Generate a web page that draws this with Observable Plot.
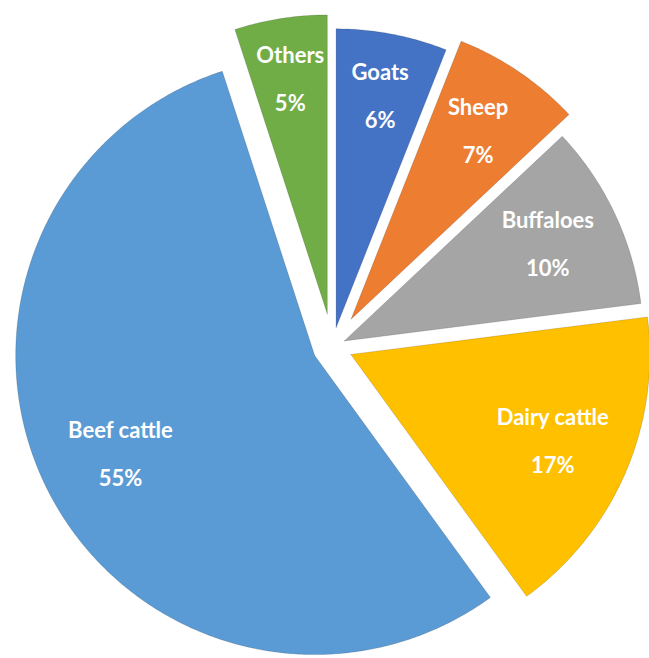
<!DOCTYPE html>
<html>
<head>
<meta charset="utf-8">
<script src="https://cdn.jsdelivr.net/npm/d3@7"></script>
<script src="https://cdn.jsdelivr.net/npm/@observablehq/plot@0.6"></script>
<style>
  html, body { margin: 0; padding: 0; background: #ffffff; }
  #chart svg { display: block; }
</style>
</head>
<body>
<div id="chart"></div>
<script>
// ---- data ----
const categories = ["Goats", "Sheep", "Buffaloes", "Dairy cattle", "Beef cattle", "Others"];
const shares = [6, 7, 10, 17, 55, 5];
const shareLabels = ["6%", "7%", "10%", "17%", "55%", "5%"];
const colors = ["#4472C4", "#ED7D31", "#A5A5A5", "#FFC000", "#5B9BD5", "#70AD47"];

// ---- layout ----
const W = 649, H = 658;
const CX = 332, CY = 346, R = 299;          // pie centre and radius (px)
const explode = [19, 33, 13, 20, 20, 33];   // radial offset of each slice (px)
const labelRadius = [235, 226, 225, 220, 218, 237]; // label centre distance from slice apex (px)

const arcs = d3.pie().sort(null).value(d => d)(shares);

// slice outlines in unit coordinates (radius = 1, y up)
const outline = [];
const labelPts = [];
arcs.forEach((a, i) => {
  const mid = (a.startAngle + a.endAngle) / 2;
  const e = explode[i] / R;
  const ox = e * Math.sin(mid), oy = e * Math.cos(mid);
  const cat = categories[i];
  outline.push({cat, x: ox, y: oy});
  const n = Math.max(4, Math.ceil((a.endAngle - a.startAngle) / (Math.PI / 360)));
  for (let k = 0; k <= n; k++) {
    const t = a.startAngle + (a.endAngle - a.startAngle) * k / n;
    outline.push({cat, x: ox + Math.sin(t), y: oy + Math.cos(t)});
  }
  outline.push({cat, x: ox, y: oy});
  const lr = labelRadius[i] / R;
  labelPts.push({
    cat,
    pct: shareLabels[i],
    x: ox + lr * Math.sin(mid),
    y: oy + lr * Math.cos(mid)
  });
});

const chart = Plot.plot({
  width: W,
  height: H,
  margin: 0,
  style: {background: "#ffffff"},
  x: {domain: [-CX / R, (W - CX) / R], range: [0, W], axis: null},
  y: {domain: [-(H - CY) / R, CY / R], range: [H, 0], axis: null},
  color: {domain: categories, range: colors},
  marks: [
    Plot.line(outline, {
      x: "x", y: "y", z: "cat",
      fill: "cat",
      stroke: "#000", strokeOpacity: 0.14, strokeWidth: 1,
      curve: "linear"
    }),
    Plot.text(labelPts, {
      x: "x", y: "y", text: "cat", dy: -24,
      fill: "white", fontSize: 22, fontWeight: "bold",
      fontFamily: "Lato, 'Open Sans', sans-serif"
    }),
    Plot.text(labelPts, {
      x: "x", y: "y", text: "pct", dy: 24,
      fill: "white", fontSize: 22, fontWeight: "bold",
      fontFamily: "Lato, 'Open Sans', sans-serif"
    })
  ]
});
document.getElementById("chart").append(chart);
</script>
</body>
</html>
